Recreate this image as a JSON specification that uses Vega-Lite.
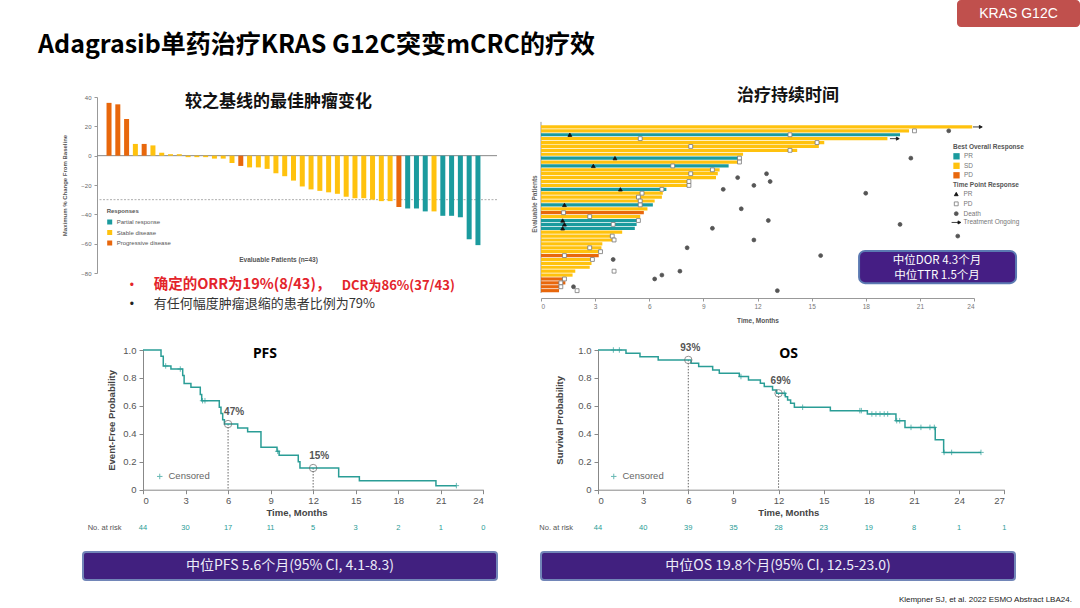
{
"$schema": "https://vega.github.io/schema/vega-lite/v6.json",
"background": "white",
"padding": {"left": 38, "top": 0, "right": 0, "bottom": 0},
"config": {"view": {"stroke": null}, "font": "Liberation Sans", "axis": {"grid": false, "labelOverlap": false}},
"columns": 1,
"align": "none",
"spacing": 0,
"resolve": {"scale": {"color": "independent", "shape": "independent", "fill": "independent", "stroke": "independent"}, "legend": {"color": "independent", "shape": "independent", "fill": "independent", "stroke": "independent"}},
"concat": [
{"hconcat": [
  {"width": 919, "height": 85.5, "data": {"values": [{}]},
   "mark": {"type": "text", "align": "left", "baseline": "middle", "font": "Noto Sans CJK SC", "fontSize": 25, "fontWeight": "bold", "color": "#000"},
   "encoding": {"text": {"value": "Adagrasib单药治疗KRAS G12C突变mCRC的疗效"},
     "x": {"datum": 0, "type": "quantitative", "scale": {"domain": [0, 1]}, "axis": null},
     "y": {"datum": 0.47, "type": "quantitative", "scale": {"domain": [0, 1]}, "axis": null}}},
  {"width": 123, "height": 27, "view": {"fill": "#c0504d", "cornerRadius": 4}, "data": {"values": [{}]},
   "mark": {"type": "text", "align": "center", "baseline": "middle", "fontSize": 14, "color": "white"},
   "encoding": {"text": {"value": "KRAS G12C"},
     "x": {"datum": 0.5, "type": "quantitative", "scale": {"domain": [0, 1]}, "axis": null},
     "y": {"datum": 0.5, "type": "quantitative", "scale": {"domain": [0, 1]}, "axis": null}}}
 ], "spacing": 0},
{"hconcat": [
  {"width": 23, "height": 245, "data": {"values": []}, "mark": "point"},
  {"width": 400, "height": 176,
   "layer": [
    {"data": {"values": [{}]}, "mark": {"type": "rule", "color": "#999", "strokeWidth": 0.8, "strokeDash": [2, 1.5]}, "encoding": {"y": {"datum": -30}}},
    {"data": {"values": [{}]}, "mark": {"type": "rule", "color": "#888", "strokeWidth": 1}, "encoding": {"y": {"datum": 0}}},
    {"data": {"values": [
      {"i":1,"v":36,"r":"Progressive disease"},{"i":2,"v":35,"r":"Progressive disease"},{"i":3,"v":25,"r":"Progressive disease"},
      {"i":4,"v":8,"r":"Stable disease"},{"i":5,"v":8,"r":"Progressive disease"},{"i":6,"v":7,"r":"Stable disease"},
      {"i":7,"v":2,"r":"Stable disease"},{"i":8,"v":1,"r":"Stable disease"},{"i":9,"v":1,"r":"Stable disease"},
      {"i":10,"v":-1,"r":"Stable disease"},{"i":11,"v":-1,"r":"Stable disease"},{"i":12,"v":-1,"r":"Stable disease"},
      {"i":13,"v":-2,"r":"Stable disease"},{"i":14,"v":-2,"r":"Stable disease"},{"i":15,"v":-5,"r":"Stable disease"},
      {"i":16,"v":-7,"r":"Progressive disease"},{"i":17,"v":-8,"r":"Stable disease"},{"i":18,"v":-8,"r":"Stable disease"},
      {"i":19,"v":-9,"r":"Stable disease"},{"i":20,"v":-12,"r":"Stable disease"},{"i":21,"v":-14,"r":"Stable disease"},
      {"i":22,"v":-17,"r":"Stable disease"},{"i":23,"v":-21,"r":"Stable disease"},{"i":24,"v":-23,"r":"Stable disease"},
      {"i":25,"v":-24,"r":"Stable disease"},{"i":26,"v":-25,"r":"Stable disease"},{"i":27,"v":-26,"r":"Stable disease"},
      {"i":28,"v":-28,"r":"Stable disease"},{"i":29,"v":-29,"r":"Stable disease"},{"i":30,"v":-29,"r":"Stable disease"},
      {"i":31,"v":-30,"r":"Stable disease"},{"i":32,"v":-31,"r":"Stable disease"},{"i":33,"v":-31,"r":"Stable disease"},
      {"i":34,"v":-35,"r":"Progressive disease"},{"i":35,"v":-36,"r":"Partial response"},{"i":36,"v":-36,"r":"Partial response"},
      {"i":37,"v":-38,"r":"Partial response"},{"i":38,"v":-38,"r":"Stable disease"},{"i":39,"v":-41,"r":"Partial response"},
      {"i":40,"v":-41,"r":"Partial response"},{"i":41,"v":-42,"r":"Partial response"},{"i":42,"v":-57,"r":"Partial response"},
      {"i":43,"v":-61,"r":"Partial response"}]},
     "mark": {"type": "bar", "orient": "vertical", "size": 5},
     "encoding": {
      "x": {"field": "i", "type": "quantitative", "scale": {"domain": [0.2, 44.6], "nice": false, "zero": false},
            "axis": {"labels": false, "ticks": false, "domain": false, "title": "Evaluable Patients (n=43)", "titleFontSize": 6.5, "titleColor": "#555", "titleFontWeight": "bold", "titleX": 181, "titleY": -14, "titleBaseline": "middle"}},
      "y": {"field": "v", "type": "quantitative", "scale": {"domain": [-80, 40], "nice": false},
            "axis": {"values": [-80, -60, -40, -20, 0, 20, 40], "tickCount": 10, "labelOverlap": false, "labelFontSize": 6, "labelColor": "#666", "tickSize": 3, "tickColor": "#999", "domainColor": "#999", "labelPadding": 3, "title": "Maximum % Change From Baseline", "titleFontSize": 6, "titleColor": "#555", "titleFontWeight": "bold", "titleX": -33, "titleBaseline": "middle"}},
      "color": {"field": "r", "type": "nominal", "scale": {"domain": ["Partial response", "Stable disease", "Progressive disease"], "range": ["#1b9b9e", "#ffc20e", "#e8670c"]},
            "legend": {"title": "Responses", "orient": "none", "legendX": 9.7, "legendY": 111, "titleFontSize": 6, "titleColor": "#555", "labelFontSize": 6, "labelColor": "#555", "symbolType": "square", "symbolSize": 25, "rowPadding": 4.5, "titlePadding": 5, "symbolStrokeWidth": 0}}
     }},
    {"data": {"values": [{}]}, "mark": {"type": "text", "font": "Noto Sans CJK SC", "fontSize": 17, "fontWeight": "bold", "color": "#111", "baseline": "middle"},
     "encoding": {"text": {"value": "较之基线的最佳肿瘤变化"}, "x": {"datum": 20.3}, "y": {"datum": 36.5}}},
    {"data": {"values": [{}]}, "mark": {"type": "text", "fontSize": 12, "color": "#e3242b", "baseline": "middle", "align": "center"},
     "encoding": {"text": {"value": "•"}, "x": {"datum": 3.61}, "y": {"datum": -88.2}}},
    {"data": {"values": [{}]}, "mark": {"type": "text", "font": "Noto Sans CJK SC", "fontSize": 14.5, "fontWeight": "bold", "color": "#e3242b", "baseline": "middle", "align": "left"},
     "encoding": {"text": {"value": "确定的ORR为19%(8/43)，"}, "x": {"datum": 6.08}, "y": {"datum": -88.2}}},
    {"data": {"values": [{}]}, "mark": {"type": "text", "font": "Noto Sans CJK SC", "fontSize": 13, "fontWeight": "bold", "color": "#e3242b", "baseline": "middle", "align": "left"},
     "encoding": {"text": {"value": "DCR为86%(37/43)"}, "x": {"datum": 27.5}, "y": {"datum": -88.6}}},
    {"data": {"values": [{}]}, "mark": {"type": "text", "fontSize": 12, "color": "#222", "baseline": "middle", "align": "center"},
     "encoding": {"text": {"value": "•"}, "x": {"datum": 3.61}, "y": {"datum": -101}}},
    {"data": {"values": [{}]}, "mark": {"type": "text", "font": "Noto Sans CJK SC", "fontSize": 13, "color": "#333", "baseline": "middle", "align": "left"},
     "encoding": {"text": {"value": "有任何幅度肿瘤退缩的患者比例为79%"}, "x": {"datum": 6.08}, "y": {"datum": -101}}}
   ]},
  {"width": 33, "height": 1, "data": {"values": []}, "mark": "point"},
  {"width": 433, "height": 201,
   "layer": [
    {"data": {"values": [{}]}, "mark": {"type": "rule", "color": "#999", "strokeWidth": 1}, "encoding": {"x": {"datum": 0}, "y": {"datum": -0.3}, "y2": {"datum": 43.6}}},
    {"data": {"values": [
      {"row":1,"resp":"SD","end":23.9},{"row":2,"resp":"SD","end":20.4},{"row":3,"resp":"PR","end":19.9},{"row":4,"resp":"SD","end":19.2},
      {"row":5,"resp":"SD","end":15.7},{"row":6,"resp":"SD","end":15.4},{"row":7,"resp":"SD","end":14.2},{"row":8,"resp":"SD","end":11.2},
      {"row":9,"resp":"PR","end":11.1},{"row":10,"resp":"SD","end":11.0},{"row":11,"resp":"PR","end":10.4},{"row":12,"resp":"SD","end":9.9},
      {"row":13,"resp":"SD","end":9.8},{"row":14,"resp":"SD","end":9.7},{"row":15,"resp":"SD","end":8.3},{"row":16,"resp":"SD","end":8.25},
      {"row":17,"resp":"PR","end":6.95},{"row":18,"resp":"SD","end":6.75},{"row":19,"resp":"SD","end":6.7},{"row":20,"resp":"SD","end":6.3},
      {"row":21,"resp":"PR","end":6.2},{"row":22,"resp":"SD","end":5.9},{"row":23,"resp":"PD","end":5.7},{"row":24,"resp":"SD","end":5.5},
      {"row":25,"resp":"PR","end":5.4},{"row":26,"resp":"PR","end":5.3},{"row":27,"resp":"PR","end":5.2},{"row":28,"resp":"SD","end":4.5},
      {"row":29,"resp":"SD","end":4.0},{"row":30,"resp":"SD","end":4.1},{"row":31,"resp":"SD","end":3.4},{"row":32,"resp":"SD","end":3.35},
      {"row":33,"resp":"SD","end":3.35},{"row":34,"resp":"PD","end":3.2},{"row":35,"resp":"SD","end":2.95},{"row":36,"resp":"SD","end":2.8},
      {"row":37,"resp":"SD","end":2.7},{"row":38,"resp":"SD","end":1.9},{"row":39,"resp":"SD","end":1.75},{"row":40,"resp":"PD","end":1.3},
      {"row":41,"resp":"PD","end":1.35},{"row":42,"resp":"PD","end":1.1},{"row":43,"resp":"PD","end":1.0}]},
     "mark": {"type": "bar", "orient": "horizontal", "size": 3.2},
     "encoding": {
      "y": {"field": "row", "type": "quantitative", "scale": {"domain": [-5.4, 43.6], "nice": false, "zero": false, "reverse": true},
            "axis": {"labels": false, "ticks": false, "domain": false, "title": "Evaluable Patients", "titleFontSize": 6.5, "titleColor": "#666", "titleFontWeight": "bold", "titleX": -6.7, "titleY": 106.5, "titleBaseline": "middle"}},
      "x": {"field": "end", "type": "quantitative", "scale": {"domain": [0, 24], "nice": false},
            "axis": {"values": [0, 3, 6, 9, 12, 15, 18, 21, 24], "tickCount": 12, "labelFontSize": 6.5, "labelColor": "#777", "tickSize": 3, "tickColor": "#999", "domainColor": "#999", "labelPadding": 2, "title": "Time, Months", "titleFontSize": 6.5, "titleColor": "#555", "titleFontWeight": "bold", "titlePadding": 8}},
      "color": {"field": "resp", "type": "nominal", "scale": {"domain": ["PR", "SD", "PD"], "range": ["#1b9b9e", "#ffc20e", "#e8670c"]},
            "legend": {"title": "Best Overall Response", "orient": "none", "legendX": 412, "legendY": 46.8, "titleFontSize": 6.5, "titleColor": "#555", "labelFontSize": 6.5, "labelColor": "#777", "symbolType": "square", "symbolSize": 40, "rowPadding": 2.5, "titlePadding": 2.5, "symbolStrokeWidth": 0}}
     }},
    {"data": {"values": [
      {"row":3,"t":1.6,"type":"PR"},{"row":9,"t":4.1,"type":"PR"},{"row":11,"t":2.9,"type":"PR"},{"row":17,"t":4.4,"type":"PR"},
      {"row":21,"t":1.3,"type":"PR"},{"row":25,"t":1.2,"type":"PR"},{"row":26,"t":1.3,"type":"PR"},{"row":27,"t":1.2,"type":"PR"},
      {"row":2,"t":20.7,"type":"PD"},{"row":3,"t":13.8,"type":"PD"},{"row":4,"t":5.5,"type":"PD"},{"row":5,"t":15.3,"type":"PD"},
      {"row":6,"t":8.3,"type":"PD"},{"row":7,"t":13.8,"type":"PD"},{"row":9,"t":11.0,"type":"PD"},{"row":10,"t":11.0,"type":"PD"},
      {"row":11,"t":7.3,"type":"PD"},{"row":12,"t":9.5,"type":"PD"},{"row":13,"t":8.3,"type":"PD"},{"row":15,"t":8.2,"type":"PD"},
      {"row":16,"t":8.2,"type":"PD"},{"row":17,"t":6.7,"type":"PD"},{"row":18,"t":5.6,"type":"PD"},{"row":19,"t":5.4,"type":"PD"},
      {"row":20,"t":5.5,"type":"PD"},{"row":21,"t":5.5,"type":"PD"},{"row":23,"t":1.25,"type":"PD"},{"row":24,"t":2.7,"type":"PD"},
      {"row":25,"t":5.4,"type":"PD"},{"row":26,"t":4.0,"type":"PD"},{"row":29,"t":3.95,"type":"PD"},{"row":30,"t":4.05,"type":"PD"},
      {"row":32,"t":2.7,"type":"PD"},{"row":33,"t":3.3,"type":"PD"},{"row":34,"t":1.3,"type":"PD"},{"row":35,"t":2.85,"type":"PD"},
      {"row":38,"t":4.05,"type":"PD"},{"row":40,"t":1.3,"type":"PD"},{"row":41,"t":1.1,"type":"PD"},{"row":42,"t":1.1,"type":"PD"},
      {"row":43,"t":2.0,"type":"PD"},
      {"row":2,"t":22.6,"type":"Death"},{"row":9,"t":20.5,"type":"Death"},{"row":13,"t":12.5,"type":"Death"},{"row":14,"t":10.9,"type":"Death"},
      {"row":15,"t":12.7,"type":"Death"},{"row":16,"t":11.8,"type":"Death"},{"row":17,"t":10.1,"type":"Death"},{"row":18,"t":18.0,"type":"Death"},
      {"row":22,"t":11.1,"type":"Death"},{"row":25,"t":12.6,"type":"Death"},{"row":26,"t":19.9,"type":"Death"},{"row":27,"t":9.5,"type":"Death"},
      {"row":29,"t":23.1,"type":"Death"},{"row":30,"t":11.8,"type":"Death"},{"row":32,"t":8.1,"type":"Death"},{"row":34,"t":15.5,"type":"Death"},
      {"row":35,"t":4.0,"type":"Death"},{"row":38,"t":7.7,"type":"Death"},{"row":39,"t":6.7,"type":"Death"},{"row":40,"t":6.3,"type":"Death"},
      {"row":42,"t":1.8,"type":"Death"},{"row":43,"t":13.1,"type":"Death"},
      {"row":1,"t":24.2,"type":"Treatment Ongoing"},{"row":4,"t":19.6,"type":"Treatment Ongoing"}]},
     "mark": {"type": "point", "filled": true, "size": 15, "strokeWidth": 0.8, "opacity": 1},
     "encoding": {
      "x": {"field": "t", "type": "quantitative"},
      "y": {"field": "row", "type": "quantitative"},
      "shape": {"field": "type", "type": "nominal", "scale": {"domain": ["PR", "PD", "Death", "Treatment Ongoing"], "range": ["triangle-up", "square", "circle", "M-2.4,0H0.9M0.9,-0.8L2.4,0L0.9,0.8Z"]},
            "legend": {"title": "Time Point Response", "orient": "none", "legendX": 412, "legendY": 84.8, "titleFontSize": 6.5, "titleColor": "#555", "labelFontSize": 6.5, "labelColor": "#777", "symbolSize": 15, "rowPadding": 1.8, "titlePadding": 2.5, "symbolStrokeWidth": 0.8}},
      "fill": {"field": "type", "type": "nominal", "scale": {"domain": ["PR", "PD", "Death", "Treatment Ongoing"], "range": ["#111111", "#ffffff", "#555555", "#111111"]}},
      "stroke": {"field": "type", "type": "nominal", "scale": {"domain": ["PR", "PD", "Death", "Treatment Ongoing"], "range": ["#111111", "#777777", "#555555", "#111111"]}}
     }},
    {"data": {"values": [{}]}, "mark": {"type": "text", "font": "Noto Sans CJK SC", "fontSize": 17, "fontWeight": "bold", "color": "#111", "baseline": "middle"},
     "encoding": {"text": {"value": "治疗持续时间"}, "x": {"datum": 13.69}, "y": {"datum": -7.0}}},
    {"data": {"values": [{}]}, "mark": {"type": "rect", "fill": "#451e84", "stroke": "#5b79b2", "strokeWidth": 2, "cornerRadius": 6},
     "encoding": {"x": {"datum": 17.63}, "x2": {"datum": 26.33}, "y": {"datum": 32.8}, "y2": {"datum": 41.07}}},
    {"data": {"values": [{}]}, "mark": {"type": "text", "font": "Noto Sans CJK SC", "fontSize": 11.5, "color": "#ffffff", "baseline": "middle", "align": "center", "lineHeight": 15},
     "encoding": {"text": {"value": ["中位DOR 4.3个月", "中位TTR 1.5个月"]}, "x": {"datum": 21.95}, "y": {"datum": 35.3}}}
   ]}
 ], "spacing": 0,
 "resolve": {"scale": {"color": "independent", "shape": "independent", "fill": "independent", "stroke": "independent"}, "legend": {"color": "independent", "shape": "independent", "fill": "independent", "stroke": "independent"}}},
{"hconcat": [
  {"width": 48.7, "height": 200.3, "data": {"values": []}, "mark": "point"},
  {"width": 340.3, "height": 139.7,
   "layer": [
    {"data": {"values": [{"t":6,"s":0.47,"label":"47%"},{"t":12,"s":0.155,"label":"15%"}]},
     "mark": {"type": "rule", "color": "#666", "strokeDash": [1.5, 1.5], "strokeWidth": 1},
     "encoding": {"x": {"field": "t", "type": "quantitative"}, "y": {"field": "s", "type": "quantitative"}, "y2": {"datum": 0}}},
    {"data": {"values": [
      {"t":0,"s":1},{"t":1.27,"s":0.955},{"t":1.43,"s":0.886},{"t":1.97,"s":0.864},{"t":2.8,"s":0.818},{"t":2.9,"s":0.761},
      {"t":3.38,"s":0.733},{"t":4.04,"s":0.682},{"t":4.14,"s":0.637},{"t":5.38,"s":0.591},{"t":5.5,"s":0.545},{"t":5.62,"s":0.5},
      {"t":5.74,"s":0.47},{"t":6.68,"s":0.442},{"t":7.38,"s":0.415},{"t":8.32,"s":0.303},{"t":9.45,"s":0.275},{"t":9.6,"s":0.246},
      {"t":10.95,"s":0.2},{"t":11.07,"s":0.155},{"t":13.8,"s":0.093},{"t":15.26,"s":0.064},{"t":20.66,"s":0.029},{"t":22.1,"s":0.029}]},
     "mark": {"type": "line", "interpolate": "step-after", "color": "#2a9d96", "strokeWidth": 1.5},
     "encoding": {
      "x": {"field": "t", "type": "quantitative", "scale": {"domain": [0, 24], "nice": false},
            "axis": {"values": [0, 3, 6, 9, 12, 15, 18, 21, 24], "tickCount": 12, "labelFontSize": 9.5, "labelColor": "#555", "tickSize": 4, "tickColor": "#888", "domainColor": "#888", "labelPadding": 2, "title": "Time, Months", "titleFontSize": 9.5, "titleColor": "#444", "titleFontWeight": "bold", "titlePadding": 2, "titleX": 153.5}},
      "y": {"field": "s", "type": "quantitative", "scale": {"domain": [0, 1], "nice": false},
            "axis": {"values": [0, 0.2, 0.4, 0.6, 0.8, 1], "tickCount": 10, "labelOverlap": false, "labelExpr": "datum.value == 0 ? '0' : format(datum.value, '.1f')", "labelFontSize": 9.5, "labelColor": "#555", "tickSize": 4, "tickColor": "#888", "domainColor": "#888", "labelPadding": 3, "title": "Event-Free Probability", "titleFontSize": 9.5, "titleColor": "#444", "titleFontWeight": "bold", "titleX": -31.3, "titleBaseline": "middle"}}
     }},
    {"data": {"values": [{"t":1.6,"s":0.886},{"t":2.63,"s":0.864},{"t":4.2,"s":0.637},{"t":4.37,"s":0.637},{"t":9.5,"s":0.275},{"t":22.1,"s":0.029}]},
     "mark": {"type": "point", "filled": false, "color": "#2a9d96", "strokeWidth": 1, "size": 30},
     "encoding": {"x": {"field": "t", "type": "quantitative"}, "y": {"field": "s", "type": "quantitative"},
      "shape": {"datum": "Censored", "scale": {"range": ["M-1,0H1M0,-1V1"]}, "legend": {"title": null, "orient": "none", "legendX": 12, "legendY": 121.7, "labelFontSize": 9.5, "labelColor": "#666", "symbolSize": 30, "symbolStrokeWidth": 1}}}},
    {"data": {"values": [{"t":6,"s":0.47,"label":"47%"},{"t":12,"s":0.155,"label":"15%"}]},
     "mark": {"type": "point", "shape": "circle", "filled": false, "color": "#666", "size": 55, "strokeWidth": 1},
     "encoding": {"x": {"field": "t", "type": "quantitative"}, "y": {"field": "s", "type": "quantitative"}}},
    {"data": {"values": [{"t":6,"s":0.47,"label":"47%"},{"t":12,"s":0.155,"label":"15%"}]},
     "mark": {"type": "text", "dx": 6, "dy": -12, "fontSize": 10, "fontWeight": "bold", "color": "#555", "baseline": "middle"},
     "encoding": {"x": {"field": "t", "type": "quantitative"}, "y": {"field": "s", "type": "quantitative"}, "text": {"field": "label"}}},
    {"data": {"values": [{"t":0,"n":44},{"t":3,"n":30},{"t":6,"n":17},{"t":9,"n":11},{"t":12,"n":5},{"t":15,"n":3},{"t":18,"n":2},{"t":21,"n":1},{"t":24,"n":0}]},
     "mark": {"type": "text", "fontSize": 7.5, "color": "#2a9d96", "baseline": "middle"},
     "encoding": {"x": {"field": "t", "type": "quantitative"}, "y": {"datum": -0.272}, "text": {"field": "n"}}},
    {"data": {"values": [{}]}, "mark": {"type": "text", "fontSize": 7.5, "color": "#555", "baseline": "middle", "align": "left"},
     "encoding": {"text": {"value": "No. at risk"}, "x": {"datum": -3.9}, "y": {"datum": -0.272}}},
    {"data": {"values": [{}]}, "mark": {"type": "text", "font": "Noto Sans", "fontSize": 14, "fontWeight": "bold", "color": "#000", "baseline": "middle"},
     "encoding": {"text": {"value": "PFS"}, "x": {"datum": 8.6}, "y": {"datum": 0.973}}}
   ]},
  {"width": 52.4, "height": 1, "data": {"values": []}, "mark": "point"},
  {"width": 406.3, "height": 139.7,
   "layer": [
    {"data": {"values": [{"t":6,"s":0.929,"label":"93%"},{"t":12,"s":0.69,"label":"69%"}]},
     "mark": {"type": "rule", "color": "#666", "strokeDash": [1.5, 1.5], "strokeWidth": 1},
     "encoding": {"x": {"field": "t", "type": "quantitative"}, "y": {"field": "s", "type": "quantitative"}, "y2": {"datum": 0}}},
    {"data": {"values": [
      {"t":0,"s":1},{"t":1.86,"s":0.976},{"t":2.79,"s":0.952},{"t":4.0,"s":0.929},{"t":6.18,"s":0.905},{"t":6.69,"s":0.881},
      {"t":7.62,"s":0.857},{"t":8.06,"s":0.833},{"t":9.39,"s":0.81},{"t":10.0,"s":0.786},{"t":10.79,"s":0.762},{"t":11.05,"s":0.738},
      {"t":11.6,"s":0.714},{"t":11.87,"s":0.69},{"t":12.45,"s":0.666},{"t":12.6,"s":0.642},{"t":12.8,"s":0.618},{"t":13.05,"s":0.59},
      {"t":15.44,"s":0.566},{"t":17.9,"s":0.542},{"t":19.8,"s":0.494},{"t":20.4,"s":0.446},{"t":22.41,"s":0.357},{"t":22.97,"s":0.267},
      {"t":25.45,"s":0.267}]},
     "mark": {"type": "line", "interpolate": "step-after", "color": "#2a9d96", "strokeWidth": 1.5},
     "encoding": {
      "x": {"field": "t", "type": "quantitative", "scale": {"domain": [0, 27], "nice": false},
            "axis": {"values": [0, 3, 6, 9, 12, 15, 18, 21, 24, 27], "tickCount": 12, "labelFontSize": 9.5, "labelColor": "#555", "tickSize": 4, "tickColor": "#888", "domainColor": "#888", "labelPadding": 2, "title": "Time, Months", "titleFontSize": 9.5, "titleColor": "#444", "titleFontWeight": "bold", "titlePadding": 2, "titleX": 190.3}},
      "y": {"field": "s", "type": "quantitative", "scale": {"domain": [0, 1], "nice": false},
            "axis": {"values": [0, 0.2, 0.4, 0.6, 0.8, 1], "tickCount": 10, "labelOverlap": false, "labelExpr": "datum.value == 0 ? '0' : format(datum.value, '.1f')", "labelFontSize": 9.5, "labelColor": "#555", "tickSize": 4, "tickColor": "#888", "domainColor": "#888", "labelPadding": 3, "title": "Survival Probability", "titleFontSize": 9.5, "titleColor": "#444", "titleFontWeight": "bold", "titleX": -38.7, "titleBaseline": "middle"}}
     }},
    {"data": {"values": [
      {"t":1.02,"s":1},{"t":1.42,"s":1},{"t":9.5,"s":0.81},{"t":12.38,"s":0.69},{"t":13.6,"s":0.59},{"t":17.4,"s":0.566},{"t":17.5,"s":0.566},
      {"t":18.2,"s":0.542},{"t":18.47,"s":0.542},{"t":18.74,"s":0.542},{"t":19.02,"s":0.542},{"t":19.25,"s":0.542},{"t":19.85,"s":0.494},
      {"t":20.05,"s":0.494},{"t":20.8,"s":0.446},{"t":21.46,"s":0.446},{"t":22.06,"s":0.446},{"t":22.35,"s":0.446},{"t":23.0,"s":0.267},
      {"t":23.5,"s":0.267},{"t":25.45,"s":0.267}]},
     "mark": {"type": "point", "filled": false, "color": "#2a9d96", "strokeWidth": 1, "size": 30},
     "encoding": {"x": {"field": "t", "type": "quantitative"}, "y": {"field": "s", "type": "quantitative"},
      "shape": {"datum": "Censored", "scale": {"range": ["M-1,0H1M0,-1V1"]}, "legend": {"title": null, "orient": "none", "legendX": 11, "legendY": 121.7, "labelFontSize": 9.5, "labelColor": "#666", "symbolSize": 30, "symbolStrokeWidth": 1}}}},
    {"data": {"values": [{"t":6,"s":0.929,"label":"93%"},{"t":12,"s":0.69,"label":"69%"}]},
     "mark": {"type": "point", "shape": "circle", "filled": false, "color": "#666", "size": 55, "strokeWidth": 1},
     "encoding": {"x": {"field": "t", "type": "quantitative"}, "y": {"field": "s", "type": "quantitative"}}},
    {"data": {"values": [{"t":6,"s":0.929,"label":"93%"},{"t":12,"s":0.69,"label":"69%"}]},
     "mark": {"type": "text", "dx": 2, "dy": -12, "fontSize": 10, "fontWeight": "bold", "color": "#555", "baseline": "middle"},
     "encoding": {"x": {"field": "t", "type": "quantitative"}, "y": {"field": "s", "type": "quantitative"}, "text": {"field": "label"}}},
    {"data": {"values": [{"t":0,"n":44},{"t":3,"n":40},{"t":6,"n":39},{"t":9,"n":35},{"t":12,"n":28},{"t":15,"n":23},{"t":18,"n":19},{"t":21,"n":8},{"t":24,"n":1},{"t":27,"n":1}]},
     "mark": {"type": "text", "fontSize": 7.5, "color": "#2a9d96", "baseline": "middle"},
     "encoding": {"x": {"field": "t", "type": "quantitative"}, "y": {"datum": -0.272}, "text": {"field": "n"}}},
    {"data": {"values": [{}]}, "mark": {"type": "text", "fontSize": 7.5, "color": "#555", "baseline": "middle", "align": "left"},
     "encoding": {"text": {"value": "No. at risk"}, "x": {"datum": -3.9}, "y": {"datum": -0.272}}},
    {"data": {"values": [{}]}, "mark": {"type": "text", "font": "Noto Sans", "fontSize": 14, "fontWeight": "bold", "color": "#000", "baseline": "middle"},
     "encoding": {"text": {"value": "OS"}, "x": {"datum": 12.67}, "y": {"datum": 0.971}}}
   ]}
 ], "spacing": 0,
 "resolve": {"scale": {"color": "independent", "shape": "independent", "fill": "independent", "stroke": "independent"}, "legend": {"color": "independent", "shape": "independent", "fill": "independent", "stroke": "independent"}}},
{"hconcat": [
  {"width": 44, "height": 1, "data": {"values": []}, "mark": "point"},
  {"width": 414, "height": 28, "view": {"fill": "#41207f", "stroke": "#7286b8", "strokeWidth": 2, "cornerRadius": 3}, "data": {"values": [{}]},
   "mark": {"type": "text", "align": "center", "baseline": "middle", "font": "Noto Sans CJK SC", "fontSize": 14, "color": "#ececf8"},
   "encoding": {"text": {"value": "中位PFS 5.6个月(95% CI, 4.1-8.3)"},
     "x": {"datum": 0.5, "type": "quantitative", "scale": {"domain": [0, 1]}, "axis": null},
     "y": {"datum": 0.5, "type": "quantitative", "scale": {"domain": [0, 1]}, "axis": null}}},
  {"width": 42, "height": 1, "data": {"values": []}, "mark": "point"},
  {"width": 474, "height": 28, "view": {"fill": "#41207f", "stroke": "#7286b8", "strokeWidth": 2, "cornerRadius": 3},
   "layer": [
    {"data": {"values": [{}]},
     "mark": {"type": "text", "align": "center", "baseline": "middle", "font": "Noto Sans CJK SC", "fontSize": 14, "color": "#ececf8"},
     "encoding": {"text": {"value": "中位OS 19.8个月(95% CI, 12.5-23.0)"},
       "x": {"datum": 0.5, "type": "quantitative", "scale": {"domain": [0, 1]}, "axis": null},
       "y": {"datum": 0.5, "type": "quantitative", "scale": {"domain": [0, 1]}, "axis": null}}},
    {"data": {"values": [{}]},
     "mark": {"type": "text", "align": "right", "baseline": "middle", "fontSize": 8, "color": "#222"},
     "encoding": {"text": {"value": "Klempner SJ, et al. 2022 ESMO Abstract LBA24."},
       "x": {"datum": 1.12, "type": "quantitative"},
       "y": {"datum": -0.71, "type": "quantitative"}}}
   ]}
 ], "spacing": 0}
]
}
